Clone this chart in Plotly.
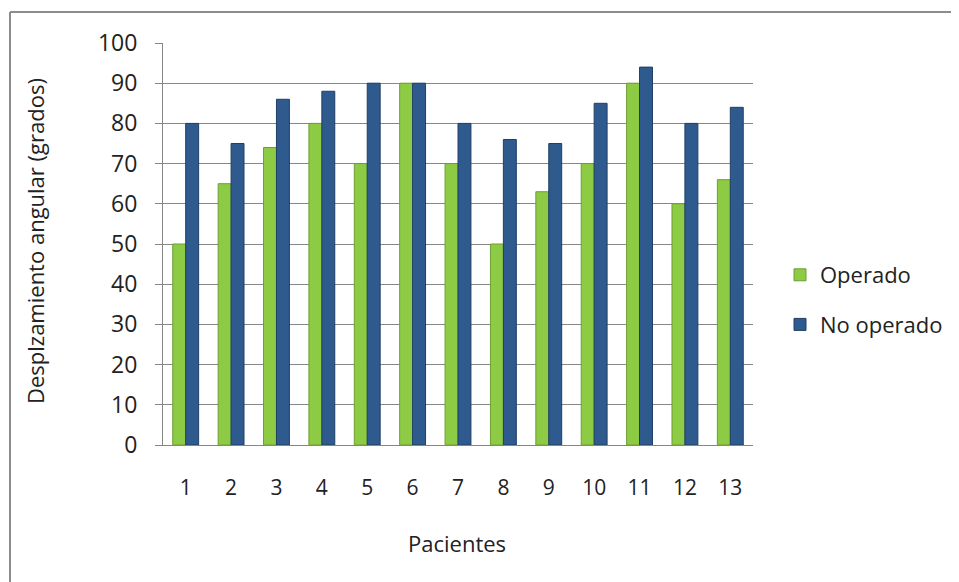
import plotly.graph_objects as go

pacientes = [str(i) for i in range(1, 14)]
operado = [50, 65, 74, 80, 70, 90, 70, 50, 63, 70, 90, 60, 66]
no_operado = [80, 75, 86, 88, 90, 90, 80, 76, 75, 85, 94, 80, 84]
y_ticks = list(range(0, 101, 10))

FONT = "Open Sans"
# screen pixel geometry of the plot area (page body has 8px margin)
PX_L, PX_R, PX_T, PX_B = 163, 753, 43, 445
PW, PH = PX_R - PX_L, PX_B - PX_T


def px(x):
    return (x - PX_L) / PW


def py(y):
    return (PX_B - y) / PH


fig = go.Figure()
fig.add_trace(go.Bar(x=pacientes, y=operado, name="Operado",
                     marker=dict(color="#8DCB45", line=dict(color="#6E9E33", width=1)),
                     legendgroup="a"))
fig.add_trace(go.Bar(x=pacientes, y=no_operado, name="No operado",
                     marker=dict(color="#2F5A8E", line=dict(color="#1F3F66", width=1)),
                     legendgroup="b"))

fig.update_layout(
    width=959, height=582,
    margin=dict(l=PX_L - 8, r=959 - PX_R + 8, t=PX_T - 8, b=582 - PX_B + 8),
    paper_bgcolor="white", plot_bgcolor="white",
    barmode="group", bargap=0.43, bargroupgap=0,
    font=dict(family=FONT, size=22, color="#222222"),
    legend=dict(x=px(780), y=py(300), xanchor="left", yanchor="middle",
                font=dict(size=22, color="#222222"), tracegroupgap=18),
    xaxis=dict(showgrid=False, showline=True, linecolor="#868686",
               ticks="", ticklabelstandoff=24, tickfont=dict(size=21)),
    yaxis=dict(range=[0, 100], tickvals=y_ticks, showgrid=True,
               gridcolor="#868686", gridwidth=1, showline=True,
               linecolor="#868686", zeroline=False, ticks="outside",
               ticklen=7, tickcolor="#868686", ticklabelstandoff=13,
               tickfont=dict(size=23)),
    annotations=[
        dict(text="Desplzamiento angular (grados)", textangle=-90,
             xref="paper", yref="paper", x=px(35), y=py(241),
             xanchor="center", yanchor="middle", showarrow=False,
             font=dict(size=22)),
        dict(text="Pacientes", xref="paper", yref="paper", x=px(457), y=py(543),
             xanchor="center", yanchor="middle", showarrow=False,
             font=dict(size=22)),
    ],
    shapes=[
        dict(type="line", xref="paper", yref="paper",
             x0=px(10), x1=px(959), y0=py(12), y1=py(12),
             line=dict(color="#8C8C8C", width=2), layer="below"),
        dict(type="line", xref="paper", yref="paper",
             x0=px(10), x1=px(10), y0=py(12), y1=py(582),
             line=dict(color="#8C8C8C", width=2), layer="below"),
    ],
)

fig.write_html("out.html")
